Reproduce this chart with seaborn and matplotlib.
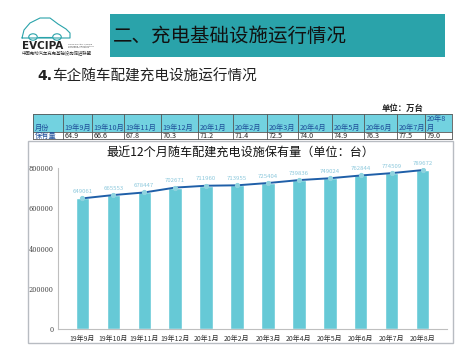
import numpy as np
import matplotlib
matplotlib.use('Agg')
import matplotlib.pyplot as plt
from matplotlib.patches import Rectangle, Circle
from matplotlib.lines import Line2D
import seaborn as sns

# data
months = ['19年9月', '19年10月', '19年11月', '19年12月', '20年1月', '20年2月',
          '20年3月', '20年4月', '20年5月', '20年6月', '20年7月', '20年8月']
stock_wan = ['64.9', '66.6', '67.8', '70.3', '71.2', '71.4',
             '72.5', '74.0', '74.9', '76.3', '77.5', '79.0']
stock = [649061, 665553, 678447, 702671, 711960, 713955,
         725404, 739836, 749024, 762844, 774509, 789672]
table_heads = ['月份'] + months[:-1] + ['20年8\n月']

W, H = 474, 355
sns.set_theme(style='white')
plt.rcParams['font.family'] = ['Noto Sans CJK SC', 'DejaVu Sans']

fig = plt.figure(figsize=(W / 100, H / 100), dpi=100)
fig.patch.set_facecolor('white')

def fx(x):
    return x / W

def fy(y):
    return 1 - y / H

tf = fig.transFigure

# title bar
fig.patches.append(Rectangle((fx(110), fy(57)), fx(445) - fx(110), fy(14) - fy(57),
                             transform=tf, facecolor='#2aa3aa', edgecolor='none'))
fig.text(fx(113), fy(36), '二、充电基础设施运行情况', fontsize=14, color='#111111',
         va='center', ha='left')

# logo
car_x = [22, 24, 30, 40, 50, 58, 66, 70, 70, 22, 22]
car_y = [38, 30, 23, 18, 18, 24, 29, 33, 38, 38, 38]
fig.lines.append(Line2D([fx(v) for v in car_x], [fy(v) for v in car_y], transform=tf,
                        color='#2aa3aa', lw=0.8))
for cx in (33, 57):
    fig.patches.append(Circle((fx(cx), fy(37)), 0.009, transform=tf,
                              facecolor='white', edgecolor='#2aa3aa', lw=0.8))
fig.lines.append(Line2D([fx(38), fx(52)], [fy(37), fy(37)], transform=tf,
                        color='#2aa3aa', lw=0.8))
fig.text(fx(22), fy(46), 'EVCIPA', fontsize=7.5, fontweight='bold', color='#222222',
         va='center', ha='left', family='DejaVu Sans')
fig.text(fx(68), fy(46), 'China Electric Vehicle\nCharging Infrastructure\nPromotion Alliance',
         fontsize=1.6, color='#444444', va='center', ha='left', family='DejaVu Sans')
fig.text(fx(22), fy(54), '中国电动汽车充电基础设施促进联盟', fontsize=3.2, color='#333333',
         va='center', ha='left')

# subtitle
fig.text(fx(37), fy(76), '4.', fontsize=10, fontweight='bold', color='#222222',
         va='center', ha='left', family='DejaVu Sans')
fig.text(fx(52), fy(76), '车企随车配建充电设施运行情况', fontsize=10.5, color='#222222',
         va='center', ha='left')
fig.text(fx(423), fy(108), '单位：万台', fontsize=6, fontweight='bold', color='#222222',
         va='center', ha='right')

# table
cols = [33, 63, 92, 124, 161, 198, 233, 267, 298, 332, 364, 397, 425, 452]
top, mid, bot = 114, 132, 139
fig.patches.append(Rectangle((fx(33), fy(mid)), fx(452) - fx(33), fy(top) - fy(mid),
                             transform=tf, facecolor='#72d2e0', edgecolor='none'))
for yy in (top, mid, bot):
    fig.lines.append(Line2D([fx(33), fx(452)], [fy(yy), fy(yy)], transform=tf,
                            color='#555555', lw=0.6))
for xx in cols:
    fig.lines.append(Line2D([fx(xx), fx(xx)], [fy(top), fy(bot)], transform=tf,
                            color='#555555', lw=0.6))
row_vals = ['保有量'] + stock_wan
for i, (head, val) in enumerate(zip(table_heads, row_vals)):
    fig.text(fx(cols[i] + 1.5), fy(131.5), head, fontsize=5.2, color='#1f4f9a',
             va='bottom', ha='left', linespacing=1.0)
    fig.text(fx(cols[i] + 1.5), fy(135.7), val, fontsize=5.2,
             color='#1f4f9a' if i == 0 else '#222222', va='center', ha='left')

# chart box
fig.patches.append(Rectangle((fx(28), fy(343)), fx(453) - fx(28), fy(141) - fy(343),
                             transform=tf, facecolor='none', edgecolor='#b8bcc2', lw=1.0))
fig.text(fx(240), fy(152), '最近12个月随车配建充电设施保有量（单位：台）', fontsize=8.7,
         color='#111111', va='center', ha='center')

ax = fig.add_axes([fx(58), fy(329), fx(447) - fx(58), fy(168) - fy(329)])
ax.set_facecolor('none')
sns.barplot(x=months, y=stock, ax=ax, color='#66c9d6', width=0.43, saturation=1)
sns.lineplot(x=np.arange(len(months)), y=stock, ax=ax, color='#1f5fa8', lw=1.4,
             marker='o', markersize=3, markerfacecolor='#8fd3df', markeredgecolor='#8fd3df')
for i, v in enumerate(stock):
    ax.text(i, v + 22000, str(v), fontsize=4.3, color='#8cc8dc', ha='center', va='bottom')
ax.set_ylim(0, 800000)
ax.set_yticks([0, 200000, 400000, 600000, 800000])
ax.set_yticklabels(['0', '200000', '400000', '600000', '800000'], fontsize=4.8,
                   color='#444444', family='DejaVu Serif')
ax.tick_params(axis='x', labelsize=5, colors='#333333', pad=4, length=0)
ax.tick_params(axis='y', pad=3, length=0)
for lab in ax.get_xticklabels():
    lab.set_family(['Noto Sans CJK SC', 'DejaVu Sans'])
for s in ('top', 'right'):
    ax.spines[s].set_visible(False)
for s in ('left', 'bottom'):
    ax.spines[s].set_color('#bfbfbf')
    ax.spines[s].set_linewidth(0.8)
ax.set_xlabel('')
ax.set_ylabel('')

fig.savefig('out.png', dpi=100)
